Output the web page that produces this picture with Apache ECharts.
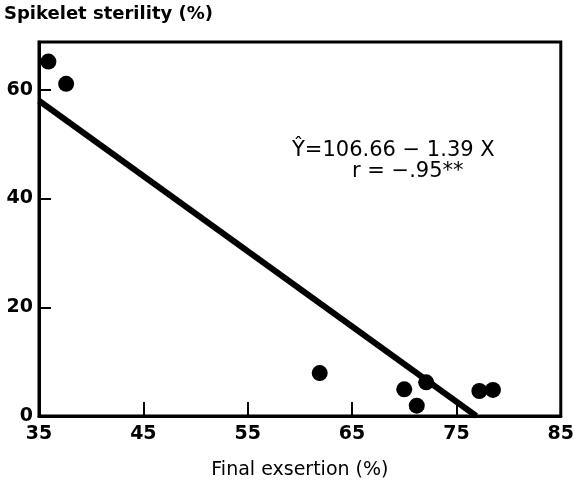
<!DOCTYPE html>
<html>
<head>
<meta charset="utf-8">
<script src="https://cdn.jsdelivr.net/npm/echarts@6/dist/echarts.min.js"></script>
<style>html,body{margin:0;padding:0;background:#fff}#c{width:577px;height:487px}</style>
</head>
<body>
<div id="c"></div>
<script>
// Observed data points (Final exsertion %, Spikelet sterility %)
var exsertion = [35.9, 37.6, 61.9, 70.0, 71.2, 72.1, 77.2, 78.5];
var sterility = [65.2, 61.1, 7.9, 4.9, 1.9, 6.2, 4.6, 4.8];
// Regression line endpoints as drawn
var fitX = [35, 76.9];
var fitY = [58.0, 0];
// Axis tick labels
var xTicks = [35, 45, 55, 65, 75, 85];
var yTicks = [0, 20, 40, 60];
var eqLine1 = "\u0176=106.66 \u2212 1.39 X";
var eqLine2 = "r = \u2212.95**";

var pts = exsertion.map(function (x, i) { return [x, sterility[i]]; });
var fit = fitX.map(function (x, i) { return [x, fitY[i]]; });

var chart = echarts.init(document.getElementById('c'), null, { renderer: 'canvas' });
var font = 'DejaVu Sans';
chart.setOption({
  animation: false,
  backgroundColor: '#fff',
  grid: { left: 39, right: 11, top: 42, bottom: 71, show: true, borderColor: '#000', borderWidth: 3, backgroundColor: 'transparent' },
  xAxis: {
    type: 'value', min: 35, max: 85, interval: 10,
    name: 'Final exsertion (%)', nameLocation: 'middle', nameGap: 45,
    nameTextStyle: { fontFamily: font, fontSize: 19, color: '#000' },
    axisLine: { show: true, lineStyle: { color: '#000', width: 3 } },
    axisTick: { show: true, inside: true, length: 14, lineStyle: { color: '#000', width: 2 } },
    axisLabel: { fontFamily: font, fontSize: 19, fontWeight: 'bold', color: '#000', margin: 9, showMaxLabel: true,
      formatter: function (v) { return xTicks.indexOf(v) >= 0 ? String(v) : ''; } },
    splitLine: { show: false }
  },
  yAxis: {
    type: 'value', min: 0, max: 68.8, interval: 20,
    axisLine: { show: true, lineStyle: { color: '#000', width: 3 } },
    axisTick: { show: true, inside: true, length: 12, lineStyle: { color: '#000', width: 2 } },
    axisLabel: { fontFamily: font, fontSize: 19, fontWeight: 'bold', color: '#000', margin: 6, showMaxLabel: false,
      formatter: function (v) { return yTicks.indexOf(v) >= 0 ? String(v) : ''; } },
    splitLine: { show: false }
  },
  graphic: [
    { type: 'text', left: 4, top: 5, style: { text: 'Spikelet sterility (%)', font: 'bold 18px "DejaVu Sans"', fill: '#000' } },
    { type: 'text', left: 292, top: 140, style: { text: eqLine1, font: '21px "DejaVu Sans"', fill: '#000' } },
    { type: 'text', left: 352, top: 161, style: { text: eqLine2, font: '21px "DejaVu Sans"', fill: '#000' } }
  ],
  series: [
    { type: 'line', data: fit, symbol: 'none', lineStyle: { color: '#000', width: 6 }, z: 2 },
    { type: 'scatter', data: pts, symbol: 'circle', symbolSize: 16, itemStyle: { color: '#000', opacity: 1 }, z: 3 }
  ]
});
</script>
</body>
</html>
